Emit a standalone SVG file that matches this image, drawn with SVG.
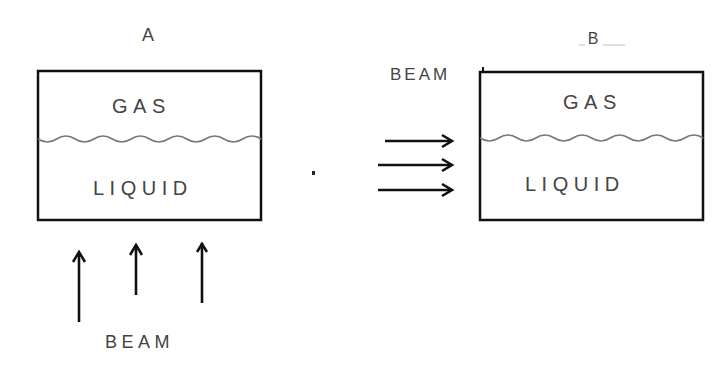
<svg xmlns="http://www.w3.org/2000/svg" width="723" height="377" viewBox="0 0 723 377">
<style>
.box{fill:none;stroke:#111;stroke-width:2.5}
.wave{fill:none;stroke:#777;stroke-width:1.6}
.lbl{font-family:"Liberation Sans",Arial,sans-serif;fill:#444}
.big{font-size:20px;letter-spacing:5.5px}
.mid{font-size:17px;letter-spacing:3px}
.arr{fill:none;stroke:#111;stroke-width:2.6}
.head{fill:none;stroke:#111;stroke-width:2.6;stroke-linejoin:miter}
</style>
<rect width="723" height="377" fill="#fff"/>
<g id="vessel-a">
<rect class="box" x="38" y="71" width="223" height="149"/>
<path class="wave" d="M38,139 q9.3,6 18.6,0 t18.6,0 t18.6,0 t18.6,0 t18.6,0 t18.6,0 t18.6,0 t18.6,0 t18.6,0 t18.6,0 t18.6,0 t18.6,0"/>
<text class="lbl" x="148" y="41" font-size="18" text-anchor="middle">A</text>
<text class="lbl big" x="112" y="113">GAS</text>
<text class="lbl big" x="93" y="195">LIQUID</text>
</g>
<g id="vessel-b">
<rect class="box" x="480" y="72" width="223" height="148"/>
<path class="wave" d="M480,138 q9.3,6 18.6,0 t18.6,0 t18.6,0 t18.6,0 t18.6,0 t18.6,0 t18.6,0 t18.6,0 t18.6,0 t18.6,0 t18.6,0 t18.6,0"/>
<text class="lbl" x="593" y="44" font-size="16" text-anchor="middle">B</text>
<path d="M579,45 h6 M603,45 h22" stroke="#bbb" stroke-width="1"/>
<path d="M483,67 v5" stroke="#111" stroke-width="2"/>
<text class="lbl big" x="563" y="109">GAS</text>
<text class="lbl big" x="525" y="191">LIQUID</text>
</g>
<g id="beam-b-label">
<text class="lbl mid" x="390" y="80">BEAM</text>
</g>
<g id="beam-a-label">
<text class="lbl" x="105" y="348" font-size="18" letter-spacing="4.5">BEAM</text>
</g>
<g id="connectors">
<path class="arr" d="M385,141 H451"/>
<path class="head" d="M442,135 L452,141 L442,147"/>
<path class="arr" d="M378,165 H451"/>
<path class="head" d="M442,159 L452,165 L442,171"/>
<path class="arr" d="M378,190 H451"/>
<path class="head" d="M442,184 L452,190 L442,196"/>
<path class="arr" d="M79,322 V253"/>
<path class="head" d="M73,262 L79,252 L85,262"/>
<path class="arr" d="M136,295 V246"/>
<path class="head" d="M130,255 L136,245 L142,255"/>
<path class="arr" d="M202,303 V243"/>
<path class="head" d="M197,252 L202,244 L207,252"/>
</g>
<rect x="312" y="171" width="3" height="4" fill="#222"/>
</svg>
